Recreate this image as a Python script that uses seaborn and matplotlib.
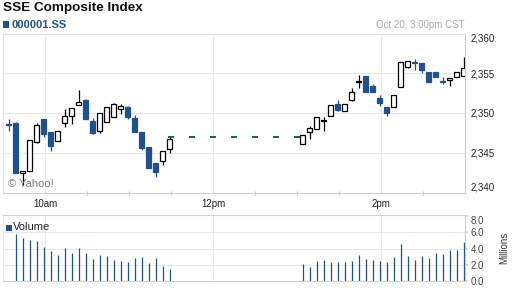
import numpy as np
import pandas as pd
import matplotlib
matplotlib.use("Agg")
import matplotlib.pyplot as plt
from matplotlib.patches import Rectangle
import seaborn as sns

# ---------------- data ----------------
title = "SSE Composite Index"
symbol = "000001.SS"
stamp = "Oct 20, 3:00pm CST"

am_open  = [2348.5, 2348.75, 2342.5, 2342.75, 2346.4, 2349.25, 2347.6, 2346.5, 2348.75, 2349.6, 2351.0, 2351.6,
            2349.0, 2347.75, 2348.9, 2349.5, 2350.5, 2350.75, 2349.4, 2347.6, 2345.75, 2343.75, 2343.9, 2345.5]
am_high  = [2349.25, 2348.9, 2342.75, 2346.6, 2348.75, 2349.25, 2347.6, 2347.75, 2350.5, 2350.6, 2352.9, 2351.75,
            2349.4, 2350.0, 2350.75, 2351.25, 2351.1, 2350.9, 2349.75, 2347.6, 2345.75, 2343.75, 2345.25, 2347.0]
am_low   = [2347.75, 2342.5, 2340.9, 2342.75, 2346.25, 2347.0, 2345.25, 2346.5, 2348.25, 2348.6, 2351.0, 2349.25,
            2347.4, 2347.5, 2348.9, 2349.5, 2349.9, 2349.25, 2347.6, 2345.4, 2343.1, 2341.9, 2343.4, 2345.0]
am_close = [2348.45, 2342.5, 2342.75, 2346.6, 2348.5, 2347.4, 2345.9, 2347.75, 2349.6, 2350.6, 2351.4, 2349.25,
            2347.5, 2350.0, 2350.75, 2351.1, 2350.9, 2349.5, 2347.6, 2345.6, 2343.1, 2342.6, 2345.25, 2346.75]

pm_open  = [2346.1, 2347.6, 2348.0, 2349.0, 2349.6, 2351.1, 2350.25, 2351.6, 2353.9, 2354.6, 2353.4, 2351.9,
            2350.75, 2350.75, 2353.25, 2355.75, 2356.4, 2356.25, 2355.1, 2355.1, 2353.9, 2354.1, 2354.5, 2354.6]
pm_high  = [2347.25, 2348.4, 2349.5, 2349.5, 2351.0, 2351.6, 2351.1, 2353.1, 2354.75, 2354.6, 2353.6, 2352.25,
            2350.75, 2352.25, 2356.4, 2356.6, 2356.75, 2356.25, 2355.1, 2355.1, 2354.5, 2354.4, 2355.1, 2357.1]
pm_low   = [2346.1, 2346.75, 2348.0, 2347.75, 2349.6, 2350.25, 2350.25, 2351.5, 2353.1, 2352.6, 2352.6, 2350.9,
            2349.6, 2350.75, 2353.25, 2355.6, 2355.4, 2355.0, 2353.9, 2354.5, 2353.6, 2353.4, 2354.5, 2354.6]
pm_close = [2347.25, 2348.1, 2349.5, 2349.05, 2351.0, 2350.4, 2351.1, 2352.6, 2353.95, 2352.6, 2352.6, 2351.25,
            2350.0, 2352.25, 2356.4, 2356.6, 2356.35, 2355.4, 2353.9, 2354.5, 2353.85, 2354.4, 2355.1, 2355.6]

lunch_price = [2347.0, 2347.0, 2347.0, 2347.0, 2347.0, 2347.0, 2347.0]

am_volume = [np.nan, 5.8, 5.35, 5.06, 4.94, 4.2, 3.7, 3.2, 4.07, 3.5, 4.07, 3.5,
             2.76, 3.2, 3.09, 2.6, 2.47, 2.35, 2.88, 2.96, 2.26, 2.84, 1.85, 1.48]
pm_volume = [2.1, 1.77, 2.47, 2.59, 2.39, 2.39, 2.39, 2.51, 3.21, 2.72, 2.63, 2.51,
             2.39, 2.96, 4.57, 3.09, 2.63, 3.09, 2.88, 3.5, 3.33, 3.83, 3.83, 4.81]

price_ticks = [2340, 2345, 2350, 2355, 2360]
vol_ticks = [0, 2, 4, 6, 8]
time_labels = ["10am", "12pm", "2pm"]
time_label_pos = ["10:00", "12:00", "14:00"]

# ---------------- helpers ----------------
base = pd.Timestamp("2000-01-01 09:30")
def minutes(ts):
    return (ts - base).total_seconds() / 60.0

am_times = pd.date_range("2000-01-01 09:35", "2000-01-01 11:30", freq="5min")
pm_times = pd.date_range("2000-01-01 13:05", "2000-01-01 15:00", freq="5min")
lunch_times = pd.date_range("2000-01-01 11:30", "2000-01-01 13:00", freq="15min")

am_x = np.array([minutes(t) for t in am_times]) - 1.0
pm_x = np.array([minutes(t) for t in pm_times]) - 1.0
lunch_x = np.array([minutes(t) for t in lunch_times])

BLUE = "#1f528c"
GRID = "#e8e8e8"
SPINE = "#d0d0d0"

sns.set_theme(style="white")
plt.rcParams["font.family"] = ["Liberation Sans", "DejaVu Sans"]

W, H = 512, 288
fig = plt.figure(figsize=(W / 100, H / 100), dpi=100)
fig.patch.set_facecolor("white")

def fx(x): return x / W
def fy(y): return 1 - y / H

# ---------------- main price axes ----------------
ax = fig.add_axes([fx(3), fy(192.5), fx(462), (192.5 - 33.5) / H])
ax.set_xlim(0, 330)
ax.set_ylim(2340, 2360)
ax.set_facecolor("white")

for v in [30, 150, 270]:
    ax.axvline(v, color=GRID, lw=0.8, zorder=0)
for p in [2345, 2350, 2355]:
    ax.axhline(p, color=GRID, lw=0.8, zorder=0)

body_w = 3.6
def candles(xs, o, h, l, c):
    for x, O, Hh, L, C in zip(xs, o, h, l, c):
        up = C >= O
        col = "black" if up else BLUE
        ax.vlines(x, L, Hh, color=col, lw=0.9, zorder=2)
        bot = min(O, C)
        hgt = max(abs(C - O), 0.12)
        ax.add_patch(Rectangle((x - body_w / 2, bot), body_w, hgt,
                               facecolor="white" if up else BLUE,
                               edgecolor=col, lw=0.9, zorder=3))

candles(am_x, am_open, am_high, am_low, am_close)
candles(pm_x, pm_open, pm_high, pm_low, pm_close)

sns.scatterplot(x=lunch_x, y=lunch_price, marker="_", s=14, color=BLUE,
                linewidth=1.4, ax=ax, zorder=3, legend=False)

ax.set_xticks([minutes(pd.Timestamp("2000-01-01 " + t)) for t in time_label_pos])
ax.set_xticklabels(time_labels)
ax.set_xticks([60, 90, 120, 180, 210, 240, 300], minor=True)
ax.tick_params(axis="x", which="major", length=0, pad=5, labelsize=7, labelcolor="#222222")
ax.tick_params(axis="x", which="minor", length=3, direction="inout", color="#c8c8c8", width=0.8)
ax.tick_params(axis="x", which="both", bottom=True)

ax.set_yticks(price_ticks)
ax.set_yticklabels([f"{p:,}" for p in price_ticks])
ax.yaxis.tick_right()
ax.tick_params(axis="y", length=0, pad=4, labelsize=7, labelcolor="#222222")
ax.get_yticklabels()[0].set_va("bottom")
ax.get_yticklabels()[-1].set_va("top")
ax.set_xlabel("")
ax.set_ylabel("")
for s in ax.spines.values():
    s.set_color(SPINE)
    s.set_linewidth(0.8)
ax.spines["left"].set_color("#e0e0e0")
ax.spines["top"].set_color("#e0e0e0")

ax.text(0.01, 0.055, "\u00a9 Yahoo!", transform=ax.transAxes, fontsize=8,
        color="#777777", va="center", ha="left")

# ---------------- volume axes ----------------
av = fig.add_axes([fx(3), fy(281), fx(462), 66 / H])
av.set_xlim(0, 330)
av.set_ylim(0, 8.15)
for v in [30, 150, 270]:
    av.axvline(v, color=GRID, lw=0.8, zorder=0)
for p in [2, 4, 6]:
    av.axhline(p, color=GRID, lw=0.8, zorder=0)
av.vlines(am_x, 0, am_volume, color=BLUE, lw=0.9, zorder=2)
av.vlines(pm_x, 0, pm_volume, color=BLUE, lw=0.9, zorder=2)
av.set_xticks([])
av.set_yticks(vol_ticks)
av.set_yticklabels([f"{v:.1f}" for v in vol_ticks])
av.yaxis.tick_right()
av.tick_params(axis="y", length=2, color=SPINE, pad=2, labelsize=7, labelcolor="#444444")
av.get_yticklabels()[-1].set_va("top")
av.yaxis.set_label_position("right")
av.set_ylabel("Millions", fontsize=7, color="#333333", labelpad=11)
for s in av.spines.values():
    s.set_color(SPINE)
    s.set_linewidth(0.8)
av.spines["left"].set_color("#e8e8e8")

# ---------------- header / legend texts ----------------
fig.text(fx(3), fy(8.5), title, fontsize=9.7, fontweight="bold", color="#111111",
         ha="left", va="center")
fig.add_artist(Rectangle((fx(3), fy(27.5)), 6 / W, 6 / H, transform=fig.transFigure,
                         facecolor=BLUE, edgecolor="none"))
fig.text(fx(12), fy(24.5), symbol, fontsize=8, fontweight="bold", color=BLUE,
         ha="left", va="center")
fig.text(fx(464), fy(25), stamp, fontsize=7, color="#aaaaaa", ha="right", va="center")

fig.add_artist(Rectangle((fx(6), fy(230.5)), 5.5 / W, 5.5 / H, transform=fig.transFigure,
                         facecolor=BLUE, edgecolor="none"))
fig.text(fx(13), fy(227.5), "Volume", fontsize=8, color="#222222", ha="left", va="center")

fig.savefig("out.png", dpi=100, facecolor="white")
